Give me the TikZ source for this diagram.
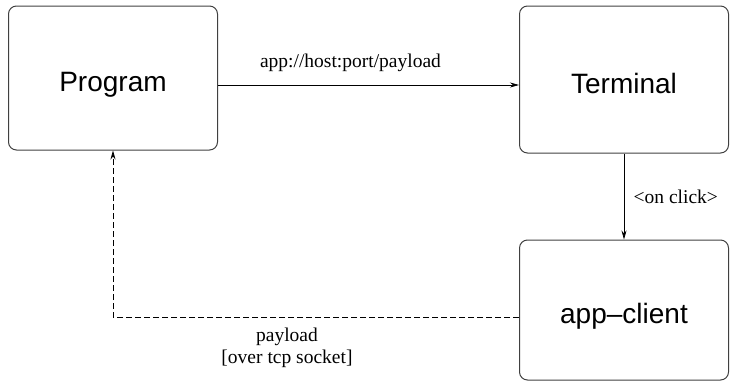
\documentclass[tikz,border=0pt]{standalone}
\usepackage{fontspec}
\setmainfont{Liberation Serif}
\setsansfont{Liberation Sans}
\usetikzlibrary{arrows.meta}

\def\boxwidth{209pt}

\begin{document}
\begin{tikzpicture}[x=1pt,y=-1pt,>={Stealth[length=9pt,width=5pt]}]
\tikzstyle{block}=[rectangle,draw=black!75,line width=1pt,rounded corners=8pt,minimum width=\boxwidth,
  minimum height=144pt,inner sep=0pt,text height=27pt,text depth=0pt,
  font=\sffamily\fontsize{28}{30}\selectfont]
\tikzstyle{annot}=[font=\fontsize{19.5}{22}\selectfont,align=center]
\tikzstyle{link}=[->,black,line width=0.7pt]

\useasboundingbox (0,0) rectangle (730,383);

% Draw the three boxes
\node[block] (program) at (113,78) {Program};
\node[block,minimum height=147pt] (terminal) at (624,79.5) {Terminal};
\node[block,minimum height=140pt] (client) at (624,310) {app--client};

% Connect the boxes
\draw[link] ([yshift=-7pt]program.east) -- ([yshift=-5.5pt]terminal.west)
  node[annot,pos=0.44,above=10pt] (url) {app://host:port/payload};
\draw[link] (terminal.south) -- (client.north)
  node[annot,midway,right=6pt] (click) {<on click>};
\draw[link,dash pattern=on 6pt off 3pt] ([yshift=-7pt]client.west) -| (program.south);

% Annotate the return path
\node[annot] (ret) at (287,348) {payload\\{}[over tcp socket]};
\end{tikzpicture}
\end{document}
